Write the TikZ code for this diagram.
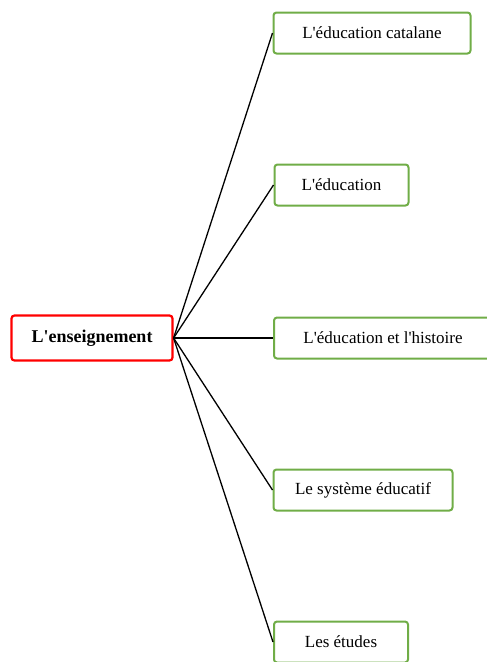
\documentclass[tikz,border=0pt]{standalone}
\usepackage{fontspec}
\setmainfont{Liberation Serif}
\usetikzlibrary{positioning}

\definecolor{topicgreen}{RGB}{112,173,71}

\tikzset{
  rootbox/.style={draw=red, line width=2.2pt, rounded corners=3pt, fill=white,
    minimum width=161pt, minimum height=45pt, font=\fontsize{18}{21}\selectfont\bfseries},
  topicbox/.style={draw=topicgreen, line width=2pt, rounded corners=3pt, fill=white,
    minimum height=41pt, font=\fontsize{17}{20}\selectfont},
  branch/.style={line width=1.3pt}
}

\begin{document}
\begin{tikzpicture}[x=1pt,y=-1pt]
\useasboundingbox (0,0) rectangle (487,662);

% noeud central
\node[rootbox] (root) at (92,338) {L\textquotesingle enseignement};

% sous-thèmes
\node[topicbox, minimum width=197pt] (t1) at (372,33) {L\textquotesingle éducation catalane};
\node[topicbox, minimum width=134pt] (t2) at (341.5,185) {L\textquotesingle éducation};
\node[topicbox, minimum width=218pt] (t3) at (383,338) {L\textquotesingle éducation et l\textquotesingle histoire};
\node[topicbox, minimum width=179pt] (t4) at (363,490) {Le système éducatif};
\node[topicbox, minimum width=134pt] (t5) at (341,642) {Les études};

% branches
\foreach \t in {t1,t2,t3,t4,t5}
  \draw[branch] (root.east) -- (\t.west);

\end{tikzpicture}
\end{document}
